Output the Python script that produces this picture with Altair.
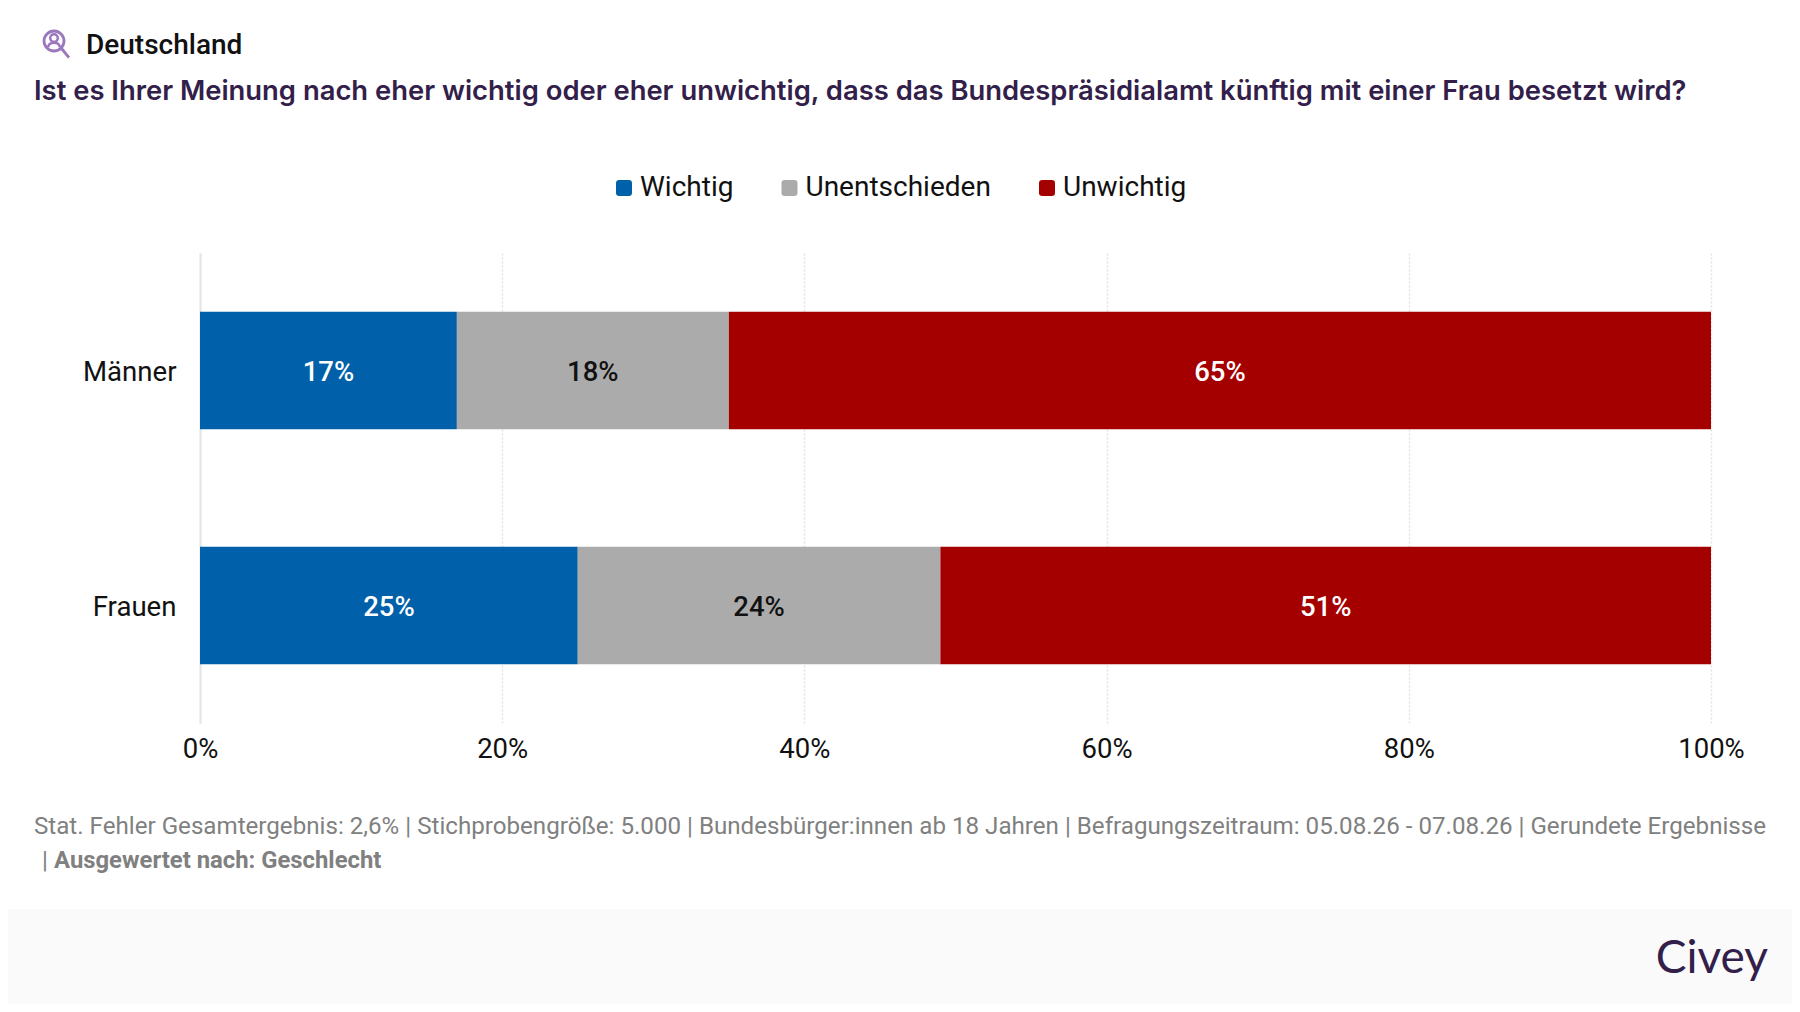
import altair as alt
import pandas as pd

groups = ["Männer", "Frauen"]
answers = ["Wichtig", "Unentschieden", "Unwichtig"]
colors = ["#0060a9", "#ababab", "#a50000"]
label_colors = ["white", "#111111", "white"]
maenner = [17, 18, 65]
frauen = [25, 24, 51]
ticks = [0, 20, 40, 60, 80, 100]

rows = []
for g, vals in zip(groups, [maenner, frauen]):
    start = 0
    for a, v, lc in zip(answers, vals, label_colors):
        rows.append(dict(group=g, answer=a, start=start, end=start + v, mid=start + v / 2,
                         label=f"{v}%", lc=lc))
        start += v
df = pd.DataFrame(rows)

TITLE = "Ist es Ihrer Meinung nach eher wichtig oder eher unwichtig, dass das Bundespräsidialamt künftig mit einer Frau besetzt wird?"
NOTE1 = "Stat. Fehler Gesamtergebnis: 2,6% | Stichprobengröße: 5.000 | Bundesbürger:innen ab 18 Jahren | Befragungszeitraum: 05.08.26 - 07.08.26 | Gerundete Ergebnisse"
NOTE2 = "Ausgewertet nach: Geschlecht"

W, H = 1511, 470
OX, OY = 192, 245  # plot origin inside the svg

one = pd.DataFrame({"a": [1]})

def txt(s, x, y, size, color, font="Roboto", weight=400, align="left"):
    return alt.Chart(one).mark_text(text=s, font=font, fontSize=size, fontWeight=weight, color=color,
                                    align=align, baseline="middle").encode(
        x=alt.value(x - 8 - OX), y=alt.value(y - 8 - OY))

footer = alt.Chart(one).mark_rect(color="#fafafa").encode(
    x=alt.value(-OX), x2=alt.value(1784 - OX), y=alt.value(909 - 8 - OY), y2=alt.value(996 - OY))

x_enc = alt.X("start:Q", scale=alt.Scale(domain=[0, 100], nice=False),
              axis=alt.Axis(values=ticks, format="d", labelExpr="datum.value + '%'", title=None, grid=True,
                            gridColor="#e2e2e2", gridDash=[2, 2], gridWidth=1.5, domain=False, ticks=False,
                            labelFont="Roboto", labelFontSize=27.5, labelColor="#111111", labelPadding=12,
                            labelFontWeight=400, labelOverlap=False, labelFlush=False))
y_scale = alt.Scale(domain=groups, paddingInner=0.5, paddingOuter=0.25)
y_enc = alt.Y("group:N", scale=y_scale, sort=groups,
              axis=alt.Axis(title=None, ticks=False, domain=True, domainColor="#e4e4e4", domainWidth=2,
                            labelFont="Roboto", labelFontSize=27.6, labelColor="#111111", labelPadding=24,
                            labelOffset=2, labelFontWeight=400, grid=False))

rsq = "M-1,-0.6Q-1,-1,-0.6,-1L0.6,-1Q1,-1,1,-0.6L1,0.6Q1,1,0.6,1L-0.6,1Q-1,1,-1,0.6Z"
bars = alt.Chart(df).mark_bar(cornerRadius=0).encode(
    x=x_enc, x2="end:Q", y=y_enc,
    color=alt.Color("answer:N", scale=alt.Scale(domain=answers, range=colors), sort=answers,
                    legend=alt.Legend(title=None, orient="none", direction="horizontal", columns=3,
                                      legendX=618 - 8 - OX - 8, legendY=174 - 8 - OY,
                                      symbolType=rsq, symbolSize=256, symbolOpacity=1, symbolStrokeWidth=0,
                                      labelFont="Roboto", labelFontSize=28, labelColor="#111111", labelOffset=2,
                                      labelLimit=400, columnPadding=41.5, rowPadding=0)),
    order=alt.Order("start:Q"),
)
labels = alt.Chart(df).mark_text(font="Roboto", fontSize=27.5, fontWeight=500, baseline="middle", align="center", dy=2.5).encode(
    x=alt.X("mid:Q", scale=alt.Scale(domain=[0, 100], nice=False)),
    y=alt.Y("group:N", scale=y_scale, sort=groups),
    text="label:N",
    color=alt.Color("lc:N", scale=None),
)

glass = "M0.75,0.75L1.5,1.67M1,0A1,1,0,1,1,-1,0A1,1,0,1,1,1,0Z"
person = "M0.38,-0.3A0.38,0.38,0,1,1,-0.38,-0.3A0.38,0.38,0,1,1,0.38,-0.3ZM-0.6,0.62Q-0.5,0.18,0,0.18Q0.5,0.18,0.6,0.62"
icon1 = alt.Chart(one).mark_point(shape=glass, size=400, color="#9b77bd", filled=False, strokeWidth=2.8, opacity=1).encode(
    x=alt.value(54 - 8 - OX), y=alt.value(41 - 8 - OY))
icon2 = alt.Chart(one).mark_point(shape=person, size=400, color="#9b77bd", filled=False, strokeWidth=2.5, opacity=1).encode(
    x=alt.value(54 - 8 - OX), y=alt.value(41 - 8 - OY))

chart = alt.layer(
    footer,
    bars,
    labels,
    icon1,
    icon2,
    txt("Deutschland", 86, 46, 28, "#111111", weight=500),
    txt(TITLE, 34, 91.5, 27.4, "#32204a", font="Inter", weight=600),
    txt(NOTE1, 34, 827, 24.15, "#808080"),
    txt("|", 42, 861, 24, "#808080"),
    txt(NOTE2, 54, 861, 23.85, "#808080", weight=700),
    txt("Civey", 1768, 959, 46, "#32204a", font="Lato", align="right"),
).resolve_scale(color="independent").properties(
    width=W, height=H,
    background="white",
    padding={"left": OX, "top": OY, "right": 81, "bottom": 281},
    autosize=alt.AutoSizeParams(type="none"),
).configure_view(stroke=None)

chart.save("out.html", embed_options={"renderer": "svg", "actions": False})
